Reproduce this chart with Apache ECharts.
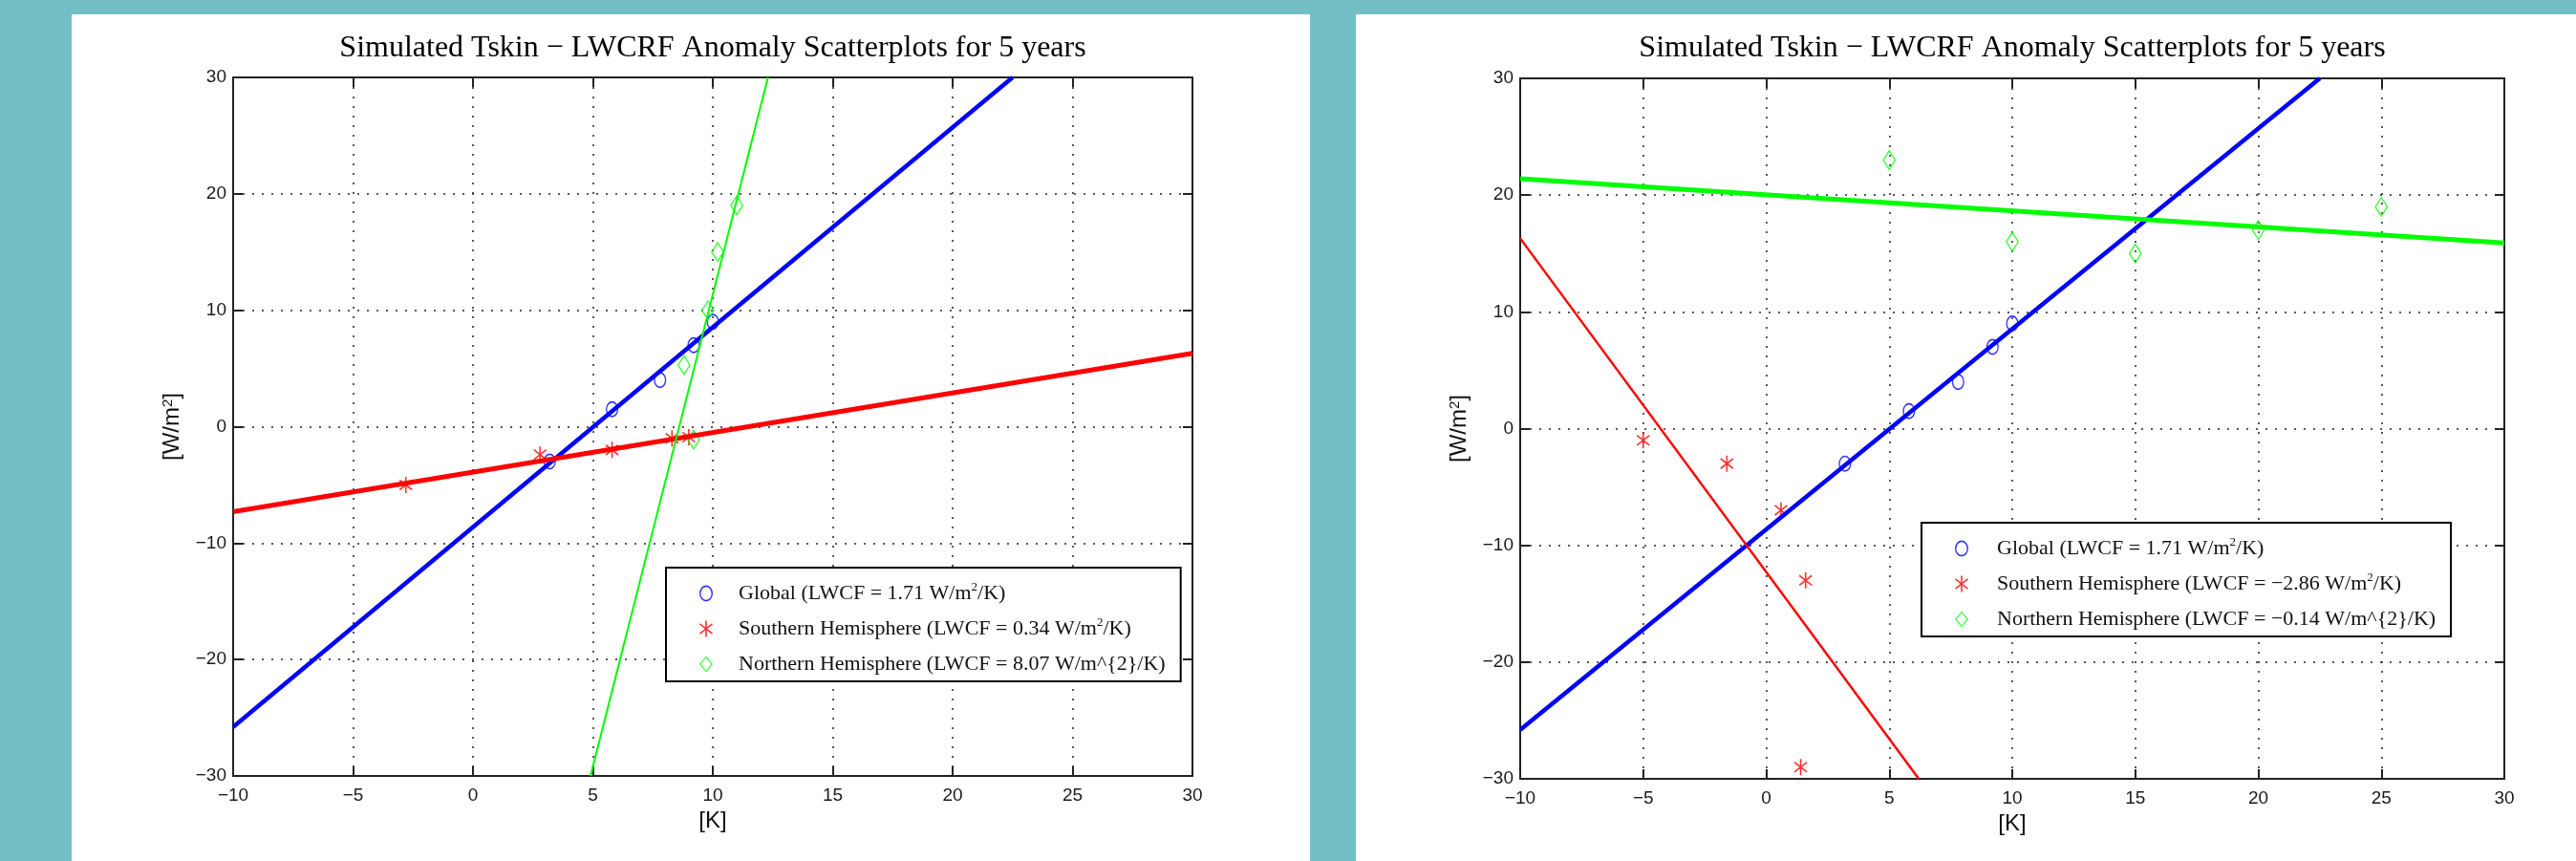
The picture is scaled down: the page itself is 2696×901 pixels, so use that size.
<!DOCTYPE html>
<html>
<head>
<meta charset="utf-8">
<script src="https://cdn.jsdelivr.net/npm/echarts@6.0.0/dist/echarts.min.js"></script>
<style>
  html, body { margin: 0; padding: 0; background: #74bec5; }
  #chart { width: 2696px; height: 901px; }
</style>
</head>
<body>
<div id="chart"></div>
<script>
const titleText = 'Simulated Tskin \u2212 LWCRF Anomaly Scatterplots for 5 years';
const xAxisName = '[K]';
const yAxisName = '[W/m{sup|2}]';
const xRange = [-10, 30, 5];   // min, max, step
const yRange = [-30, 30, 10];

// global points + fit are the same in both panels
const globalPts = [[3.2, -3], [5.8, 1.5], [7.8, 4], [9.2, 7], [10, 9]];
const globalFit = [[-10, -25.8], [22.5, 30]];

// left panel
const southPtsA = [[-2.8, -5], [2.8, -2.4], [5.8, -2], [8.3, -1], [9, -0.9]];
const northPtsA = [[9.2, -1.1], [8.8, 5.3], [9.8, 10], [10.2, 15], [11, 19]];
const southFitA = [[-10, -7.3], [30, 6.3]];
const northFitA = [[4.9, -30], [12.3, 30]];
const legendA = [
  'Global (LWCF = 1.71 W/m{sup|2}/K)',
  'Southern Hemisphere (LWCF = 0.34 W/m{sup|2}/K)',
  'Northern Hemisphere (LWCF = 8.07 W/m^{2}/K)'
];

// right panel
const southPtsB = [[-5, -1], [-1.6, -3], [0.6, -7], [1.6, -13], [1.4, -29]];
const northPtsB = [[5, 23], [10, 16], [15, 15], [20, 17], [25, 19]];
const southFitB = [[-10, 16.3], [6.2, -30]];
const northFitB = [[-10, 21.4], [30, 15.9]];
const legendB = [
  'Global (LWCF = 1.71 W/m{sup|2}/K)',
  'Southern Hemisphere (LWCF = \u22122.86 W/m{sup|2}/K)',
  'Northern Hemisphere (LWCF = \u22120.14 W/m^{2}/K)'
];

const BLUE = '#0000ff', RED = '#ff0000', GREEN = '#00ff00';
const SANS = 'Liberation Sans', SERIF = 'Liberation Serif';

// hollow marker shapes (matlab style)
const ringPath = 'path://M50 0A50 50 0 1 1 50 100A50 50 0 1 1 50 0ZM50 10A40 40 0 1 0 50 90A40 40 0 1 0 50 10Z';
const diamondPath = 'path://M50 0L100 50L50 100L0 50ZM50 11L11 50L50 89L89 50Z';
const starPath = 'path://M45 0L55 0L55 100L45 100ZM13 16L93 76L87 84L7 24ZM13 84L7 76L87 16L93 24Z';

const panels = [
  { left: 75, top: 15, width: 1296, height: 886 },
  { left: 1419, top: 15, width: 1277, height: 886 }
];
const grids = [
  { left: 244, top: 81, width: 1004, height: 731 },
  { left: 1591, top: 82, width: 1030, height: 733 }
];

const axisColor = '#222';
const minus = v => String(v).replace('-', '\u2212');

function xAxes(gi) {
  const base = {
    type: 'value', gridIndex: gi, min: xRange[0], max: xRange[1], interval: xRange[2],
    axisLine: { onZero: false, lineStyle: { color: axisColor, width: 2 } },
    axisTick: { inside: true, length: 10, lineStyle: { color: axisColor, width: 2 } }
  };
  return [
    Object.assign({}, base, {
      position: 'bottom',
      name: xAxisName, nameLocation: 'middle', nameGap: 35,
      nameTextStyle: { fontFamily: SANS, fontSize: 24, color: '#111' },
      axisLabel: { fontFamily: SANS, fontSize: 19, color: '#1a1a1a', margin: 11, formatter: minus },
      splitLine: { show: true, lineStyle: { type: [2, 8], color: '#222', width: 1.5 } }
    }),
    Object.assign({}, base, { position: 'top', axisLabel: { show: false }, splitLine: { show: false } })
  ];
}

function yAxes(gi) {
  const base = {
    type: 'value', gridIndex: gi, min: yRange[0], max: yRange[1], interval: yRange[2],
    axisLine: { onZero: false, lineStyle: { color: axisColor, width: 2 } },
    axisTick: { inside: true, length: 10, lineStyle: { color: axisColor, width: 2 } }
  };
  return [
    Object.assign({}, base, {
      position: 'left',
      name: yAxisName, nameLocation: 'middle', nameGap: 52, nameRotate: 90,
      nameTextStyle: {
        fontFamily: SANS, fontSize: 24, color: '#111',
        rich: { sup: { fontFamily: SANS, fontSize: 15, verticalAlign: 'top', color: '#111' } }
      },
      axisLabel: { fontFamily: SANS, fontSize: 19, color: '#1a1a1a', margin: 7, formatter: minus },
      splitLine: { show: true, lineStyle: { type: [2, 8], color: '#222', width: 1.5 } }
    }),
    Object.assign({}, base, { position: 'right', axisLabel: { show: false }, splitLine: { show: false } })
  ];
}

function scatter(name, data, symbol, size, color, ai) {
  return {
    type: 'scatter', name: name, xAxisIndex: ai, yAxisIndex: ai,
    data: data, symbol: symbol, symbolSize: size,
    itemStyle: { color: color }, z: 3, silent: true
  };
}
function fit(data, color, width, ai) {
  return {
    type: 'line', xAxisIndex: ai, yAxisIndex: ai, data: data,
    symbol: 'none', lineStyle: { color: color, width: width }, z: 4, silent: true
  };
}

const labelMap = {
  gA: legendA[0], sA: legendA[1], nA: legendA[2],
  gB: legendB[0], sB: legendB[1], nB: legendB[2]
};

function legend(names, left, top, textPad) {
  return {
    orient: 'vertical', left: left, top: top,
    data: names, selectedMode: false,
    itemWidth: 14, itemHeight: 17, itemGap: 11,
    symbolKeepAspect: false,
    padding: [14, 16, 5, 35],
    backgroundColor: '#fff', borderColor: '#000', borderWidth: 2, borderRadius: 0,
    formatter: n => labelMap[n],
    textStyle: {
      fontFamily: SERIF, fontSize: 22, color: '#111', lineHeight: 26, padding: [0, 0, 0, textPad],
      rich: { sup: { fontFamily: SERIF, fontSize: 13, color: '#111', verticalAlign: 'top', lineHeight: 14 } }
    }
  };
}

const chart = echarts.init(document.getElementById('chart'), null, { renderer: 'canvas' });

chart.setOption({
  animation: false,
  backgroundColor: '#74bec5',
  graphic: panels.map(p => ({
    type: 'rect', left: p.left, top: p.top, z: -10, silent: true,
    shape: { width: p.width, height: p.height },
    style: { fill: '#fff' }
  })),
  title: grids.map(g => ({
    text: titleText, left: g.left + g.width / 2, top: 35, textAlign: 'center', padding: 0,
    textStyle: { fontFamily: SERIF, fontWeight: 'normal', fontSize: 32, color: '#000' }
  })),
  grid: grids.map(g => Object.assign({ outerBoundsMode: 'none', containLabel: false }, g)),
  xAxis: xAxes(0).concat(xAxes(1)),
  yAxis: yAxes(0).concat(yAxes(1)),
  legend: [
    legend(['gA', 'sA', 'nA'], 697, 594, 22),
    legend(['gB', 'sB', 'nB'], 2011, 547, 25)
  ],
  series: [
    scatter('gA', globalPts, ringPath, [13, 17], BLUE, 0),
    scatter('sA', southPtsA, starPath, [14, 17], RED, 0),
    scatter('nA', northPtsA, diamondPath, [14, 22], GREEN, 0),
    fit(globalFit, BLUE, 4.5, 0),
    fit(southFitA, RED, 5, 0),
    fit(northFitA, GREEN, 2, 0),

    scatter('gB', globalPts, ringPath, [13, 17], BLUE, 2),
    scatter('sB', southPtsB, starPath, [14, 17], RED, 2),
    scatter('nB', northPtsB, diamondPath, [14, 22], GREEN, 2),
    fit(globalFit, BLUE, 4.5, 2),
    fit(southFitB, RED, 2.5, 2),
    fit(northFitB, GREEN, 5, 2)
  ]
});
</script>
</body>
</html>
